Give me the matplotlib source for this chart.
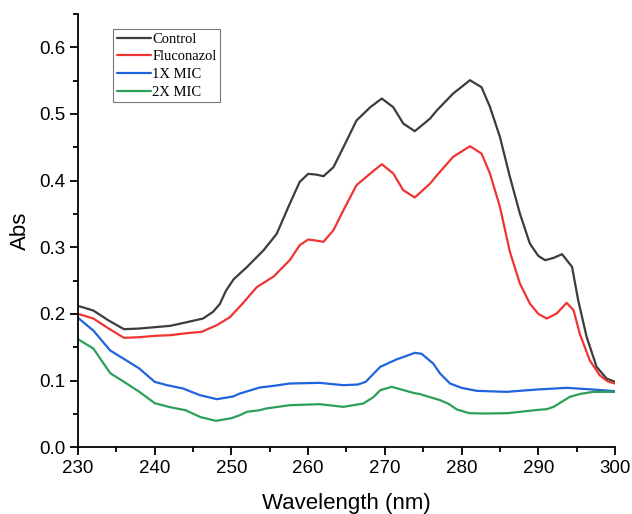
import matplotlib
matplotlib.use('Agg')
import matplotlib.pyplot as plt
from matplotlib.ticker import MultipleLocator

# Wavelength (nm) and absorbance values
wl_control = [230, 232, 234, 236, 238, 240, 242, 244, 246.3, 247.6, 248.5, 249.3, 250.3, 252, 254.2,
              255.9, 257.6, 258.9, 260, 261, 262, 263.3, 264.6, 266.3, 268.1, 269.6, 271.1, 272.4, 273.9,
              275.9, 276.8, 278.9, 281.1, 282.6, 283.7, 285, 286.3, 287.6, 288.9, 290, 290.9, 292, 293.1,
              294.4, 295.2, 296.3, 297.6, 298.9, 300]
control = [0.212, 0.205, 0.190, 0.177, 0.178, 0.180, 0.182, 0.187, 0.193, 0.203, 0.215, 0.235, 0.252, 0.270,
           0.2955, 0.320, 0.365, 0.398, 0.410, 0.409, 0.4065, 0.420, 0.450, 0.490, 0.510, 0.523, 0.510,
           0.4855, 0.474, 0.493, 0.5055, 0.5305, 0.5505, 0.540, 0.5105, 0.4655, 0.4055, 0.3505, 0.3055,
           0.287, 0.2805, 0.284, 0.2895, 0.2705, 0.2205, 0.1655, 0.1205, 0.103, 0.098]

wl_fluc = [230, 232, 234, 236, 238, 240, 242, 244.2, 246.1, 248.1, 249.8, 251.5, 253.3, 255.5, 257.6,
           258.9, 260, 261, 262, 263.3, 264.6, 266.3, 268.1, 269.6, 271.1, 272.4, 273.9, 275.9, 276.8,
           278.9, 281.1, 282.6, 283.7, 285, 286.3, 287.6, 288.9, 290, 291.1, 292.4, 293.7, 294.6, 295.4,
           296.7, 298, 299, 300]
fluconazol = [0.200, 0.193, 0.178, 0.164, 0.165, 0.167, 0.168, 0.171, 0.173, 0.183, 0.195, 0.216, 0.240,
              0.256, 0.2805, 0.303, 0.3115, 0.310, 0.308, 0.3255, 0.3555, 0.393, 0.4105, 0.4245, 0.4105,
              0.3855, 0.3745, 0.3955, 0.408, 0.4355, 0.4515, 0.4405, 0.4105, 0.3605, 0.293, 0.2455, 0.2155,
              0.200, 0.193, 0.2005, 0.2165, 0.2055, 0.1705, 0.1305, 0.108, 0.099, 0.0955]

wl_mic1 = [230, 232, 234.2, 235.9, 238, 240, 241.6, 243.7, 245.9, 248.1, 250.2, 251.1, 252.4, 253.7,
           255.5, 257.6, 261.5, 264.6, 266.5, 267.5, 269.4, 271.5, 273.9, 274.8, 276.3, 277.2, 278.5,
           280, 282, 285.9, 289.8, 293.7, 296.5, 300]
mic1 = [0.194, 0.175, 0.145, 0.133, 0.118, 0.098, 0.093, 0.088, 0.078, 0.072, 0.076, 0.0805, 0.085,
        0.0895, 0.092, 0.0955, 0.0965, 0.093, 0.094, 0.098, 0.1205, 0.1315, 0.1415, 0.140, 0.1255, 0.1105,
        0.0955, 0.089, 0.0845, 0.083, 0.0865, 0.089, 0.087, 0.084]

wl_mic2 = [230, 232, 234.2, 236, 238, 240, 242, 244, 246, 248, 250, 251.1, 252, 253.7, 254.5, 257.6,
           261.5, 264.6, 267.2, 268.5, 269.4, 270.9, 273.7, 274.6, 277.2, 278.3, 279.4, 281, 283, 286,
           290, 291.1, 292, 294.1, 295.5, 297.2, 300]
mic2 = [0.162, 0.148, 0.111, 0.098, 0.083, 0.066, 0.060, 0.0555, 0.045, 0.0395, 0.0435, 0.048, 0.053,
        0.0555, 0.058, 0.063, 0.0645, 0.0605, 0.0655, 0.075, 0.0855, 0.0905, 0.0815, 0.0795, 0.0705,
        0.065, 0.0565, 0.051, 0.0505, 0.051, 0.056, 0.057, 0.0605, 0.0755, 0.080, 0.083, 0.083]

fig = plt.figure(figsize=(6.32, 5.14), dpi=100)
ax = fig.add_axes([0.1234, 0.130, 0.8497, 0.843])

lw = 1.6
style = dict(lw=lw, solid_joinstyle='round', solid_capstyle='round')
ax.plot(wl_control, control, color='#3c3c3c', label='Control', **style)
ax.plot(wl_fluc, fluconazol, color='#f03434', label='Fluconazol', **style)
ax.plot(wl_mic1, mic1, color='#1f64dc', label='1X MIC', **style)
ax.plot(wl_mic2, mic2, color='#2ca05a', label='2X MIC', **style)

ax.set_xlim(230, 300)
ax.set_ylim(0, 0.65)
ax.xaxis.set_major_locator(MultipleLocator(10))
ax.xaxis.set_minor_locator(MultipleLocator(5))
ax.yaxis.set_minor_locator(MultipleLocator(0.05))
ax.set_yticks([0.0, 0.1, 0.2, 0.3, 0.4, 0.5, 0.6])
ax.set_yticklabels(['0.0', '0.1', '0.2', '0.3', '0.4', '0.5', '0.6'])

for s in ['top', 'right']:
    ax.spines[s].set_visible(False)
for s in ['left', 'bottom']:
    ax.spines[s].set_linewidth(1.3)
ax.tick_params(which='major', direction='out', length=6, width=1.3, labelsize=13.5, pad=3)
ax.tick_params(which='minor', direction='out', length=3.5, width=1.3)
for lab in ax.get_xticklabels() + ax.get_yticklabels():
    lab.set_family('Liberation Sans')

ax.set_xlabel('Wavelength (nm)', family='Liberation Sans', fontsize=16, labelpad=12)
ax.set_ylabel('Abs', family='Liberation Sans', fontsize=16, labelpad=6)

leg = ax.legend(loc='upper left', bbox_to_anchor=(0.065, 0.965), prop={'family': 'Liberation Serif', 'size': 10.5},
                frameon=True, fancybox=False, handlelength=2.35, handletextpad=0.1, labelspacing=0.3,
                borderpad=0.25, borderaxespad=0)
leg.get_frame().set_edgecolor('#555555')
leg.get_frame().set_linewidth(0.8)

fig.savefig('out.png', dpi=100)
